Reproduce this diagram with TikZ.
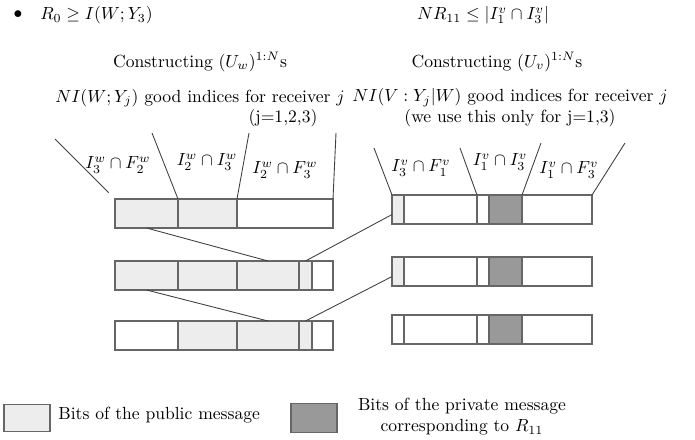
\documentclass[tikz,border=0pt]{standalone}
\usepackage{amssymb, amsfonts, amsmath}
\usepackage{tikz}
\usetikzlibrary{positioning}
\tikzset {
    cell/.style={draw=black!60, line width=0.6pt, minimum width=#1*0.02cm,
        minimum height=0.58cm, inner sep=0pt, outer sep=0pt},
    pub/.style={fill=black!7},
    priv/.style={fill=black!40},
    fan/.style={draw=black!75, line width=0.5pt},
    txt/.style={inner sep=0pt}
}

\begin{document}
\begin{tikzpicture}[x=0.02cm, y=-0.02cm]
                        \useasboundingbox (0,0) rectangle (695,439);

                        \node[txt] (bul) at (18,15) {$\bullet$};
                        \node[txt, anchor=west] (rzero) at (40,15) {$R_0 \geq I(W;Y_3)$};
                        \node[txt] (rone) at (483,15) {$NR_{11} \leq |I_1^v \cap I_3^v|$};

                        \node[txt] (conw) at (200,62) {Constructing $(U_w)^{1:N}$s};
                        \node[txt] (conv) at (497,62) {Constructing $(U_v)^{1:N}$s};

                        \node[txt] (goodw) at (200,98) {$NI(W;Y_j)$ good indices for receiver $j$};
                        \node[txt] (jw) at (283,118) {(j=1,2,3)};
                        \node[txt, align=center] (goodv) at (510,108) {$NI(V:Y_j|W)$ good indices for receiver $j$\\(we use this only for j=1,3)};

                        \node[cell=63, pub, anchor=north west] (l1a) at (115,199) {};
                        \node[cell=59, pub, right=0pt of l1a] (l1b) {};
                        \node[cell=96, right=0pt of l1b] (l1c) {};

                        \node[cell=63, pub, anchor=north west] (l2a) at (115,261) {};
                        \node[cell=59, pub, right=0pt of l2a] (l2b) {};
                        \node[cell=62, pub, right=0pt of l2b] (l2c) {};
                        \node[cell=13, pub, right=0pt of l2c] (l2d) {};
                        \node[cell=21, right=0pt of l2d] (l2e) {};

                        \node[cell=63, anchor=north west] (l3a) at (115,321) {};
                        \node[cell=59, pub, right=0pt of l3a] (l3b) {};
                        \node[cell=62, pub, right=0pt of l3b] (l3c) {};
                        \node[cell=13, pub, right=0pt of l3c] (l3d) {};
                        \node[cell=21, right=0pt of l3d] (l3e) {};

                        \node[cell=12, pub, anchor=north west] (r1a) at (392,195) {};
                        \node[cell=73, right=0pt of r1a] (r1b) {};
                        \node[cell=12, right=0pt of r1b] (r1c) {};
                        \node[cell=33, priv, right=0pt of r1c] (r1d) {};
                        \node[cell=70, right=0pt of r1d] (r1e) {};

                        \node[cell=12, pub, anchor=north west] (r2a) at (392,257) {};
                        \node[cell=73, right=0pt of r2a] (r2b) {};
                        \node[cell=12, right=0pt of r2b] (r2c) {};
                        \node[cell=33, priv, right=0pt of r2c] (r2d) {};
                        \node[cell=70, right=0pt of r2d] (r2e) {};

                        \node[cell=12, anchor=north west] (r3a) at (392,315) {};
                        \node[cell=73, right=0pt of r3a] (r3b) {};
                        \node[cell=12, right=0pt of r3b] (r3c) {};
                        \node[cell=33, priv, right=0pt of r3c] (r3d) {};
                        \node[cell=70, right=0pt of r3d] (r3e) {};

                        \node[txt] (iwa) at (118,165) {$I_3^w \cap F_2^w$};
                        \node[txt] (iwb) at (207,162) {$I_2^w \cap I_3^w$};
                        \node[txt] (iwc) at (285,170) {$I_2^w \cap F_3^w$};
                        \node[txt] (iva) at (421,168) {$I_3^v \cap F_1^v$};
                        \node[txt] (ivb) at (500,162) {$I_1^v \cap I_3^v$};
                        \node[txt] (ivc) at (569,170) {$I_1^v \cap F_3^v$};

                        \coordinate (wa) at (55,139);
                        \coordinate (wb) at (152,133);
                        \coordinate (wc) at (249,133);
                        \coordinate (wd) at (336,133);
                        \coordinate (va) at (374,148);
                        \coordinate (vb) at (460,148);
                        \coordinate (vc) at (541,143);
                        \coordinate (vd) at (625,143);

                        \draw[fan, shorten <=0.18cm] (l1a.north west) -- (wa);
                        \draw[fan] (l1b.north west) -- (wb);
                        \draw[fan] (l1c.north west) -- (wc);
                        \draw[fan] (l1c.north east) -- (wd);
                        \draw[fan] (r1a.north west) -- (va);
                        \draw[fan] (r1c.north west) -- (vb);
                        \draw[fan] (r1d.north east) -- (vc);
                        \draw[fan] (r1e.north east) -- (vd);

                        \draw[fan]
                        (l1a.south) -- (l2c.north)
                        (l2a.south) -- (l3c.north)
                        (l2d.north) -- (r1a.220)
                        (l3d.north) -- (r2a.220);

                        \node[cell=46, pub, minimum height=0.54cm] (keypub) at (27,418) {};
                        \node[txt, anchor=west] (txtpub) at (58,415) {Bits of the public message};
                        \node[cell=46, priv] (keypriv) at (314,418) {};
                        \node[txt, align=center] (txtpriv) at (462,417) {Bits of the private message\\corresponding to $R_{11}$};

                    \end{tikzpicture}
\end{document}
